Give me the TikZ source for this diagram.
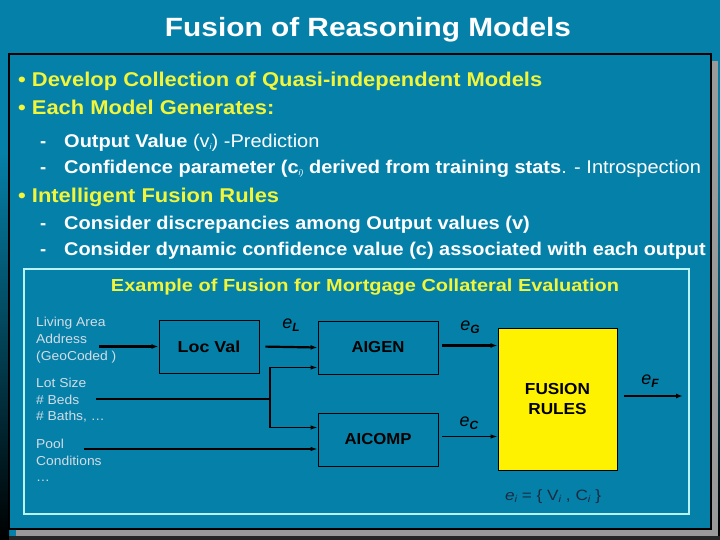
\documentclass[tikz,border=0pt]{standalone}
\usepackage{graphicx}
\usepackage{fontspec}
\setmainfont{Liberation Sans}
\usetikzlibrary{arrows.meta,calc}
\definecolor{bg}{HTML}{0581A9}
\definecolor{ylw}{HTML}{F2F53A}
\definecolor{shadowgray}{HTML}{9A9A9A}
\definecolor{innerline}{HTML}{B8F4F4}
\definecolor{lbl}{HTML}{D4DCE4}
\definecolor{navy}{HTML}{1A2A40}
\newcommand{\sx}[2]{\scalebox{#1}[1]{#2}}
\tikzset{
  txt/.style={inner sep=0pt, anchor=base west},
  bul/.style={txt, text=ylw, font=\fontsize{20}{24}\selectfont\bfseries},
  sub/.style={txt, text=white, font=\fontsize{18.5}{22}\selectfont\bfseries},
  box/.style={draw=black, line width=0.9bp, inner sep=0pt, font=\fontsize{16}{19}\selectfont\bfseries, text=black},
  inlbl/.style={inner sep=0pt, anchor=north west, align=left, text=lbl, font=\fontsize{13}{17}\selectfont},
  thickarr/.style={draw=black, line width=2.2bp, -{Latex[length=7bp,width=5bp]}},
  thinarr/.style={draw=black, line width=1.2bp, -{Latex[length=7bp,width=4.5bp]}},
  thinline/.style={draw=black, line width=1.2bp},
  elbl/.style={inner sep=0pt, text=black, font=\fontsize{18}{20}\selectfont}
}
\newcommand{\elab}[1]{\textit{e}\raisebox{-3bp}{\fontsize{12}{12}\selectfont\bfseries\itshape #1}}
\begin{document}
\begin{tikzpicture}[x=1bp,y=-1bp]
\useasboundingbox (0,0) rectangle (720,540);
\fill[bg] (0,0) rectangle (720,540);
\shade[top color=bg, bottom color=black] (0,150) rectangle (9,540);
\shade[top color=bg, bottom color=black] (718,150) rectangle (720,540);
\fill[black!85] (9,536) rectangle (720,540);
% frame with shadow
\fill[shadowgray] (16,61) rectangle (718,536);
\filldraw[fill=bg, draw=black, line width=1.3bp] (9,54) rectangle (711,529);
% title
\node[inner sep=0pt, anchor=base, text=white, font=\fontsize{26.5}{30}\selectfont\bfseries] (title) at (368,37) {\sx{1.13}{Fusion of Reasoning Models}};
% bullets
\node[bul] (b1) at (18,87) {\sx{1.1}{• Develop Collection of Quasi-independent Models}};
\node[bul] (b2) at (18,115) {\sx{1.1}{• Each Model Generates:}};
\node[sub] (s1d) at (40,148) {-};
\node[sub] (s1) at (64,148) {\sx{1.085}{Output Value {\mdseries(v\raisebox{-2bp}{\fontsize{8}{8}\selectfont\itshape i})} {\mdseries -Prediction}}};
\node[sub] (s2d) at (40,174) {-};
\node[sub] (s2) at (64,174) {\sx{1.085}{Confidence parameter (c\raisebox{-2bp}{\fontsize{8}{8}\selectfont\mdseries\itshape i)} derived from training stats{\mdseries. -} {\mdseries Introspection}}};
\node[bul] (b3) at (18,203) {\sx{1.1}{• Intelligent Fusion Rules}};
\node[sub] (s3d) at (40,230) {-};
\node[sub] (s3) at (64,230) {\sx{1.085}{Consider discrepancies among Output values (v)}};
\node[sub] (s4d) at (40,256) {-};
\node[sub] (s4) at (64,256) {\sx{1.08}{Consider dynamic confidence value (c) associated with each output}};
% inner box
\draw[innerline, line width=1.2bp] (24,269) rectangle (689,514);
\node[inner sep=0pt, anchor=base, text=ylw, font=\fontsize{17.5}{20}\selectfont\bfseries] (ex) at (365,291) {\sx{1.145}{Example of Fusion for Mortgage Collateral Evaluation}};
% input labels
\node[inlbl] (in1) at (36,317) {\sx{1.07}{Living Area}\\\sx{1.07}{Address}\\\sx{1.07}{(GeoCoded )}};
\node[inlbl] (in2) at (36,377.5) {\sx{1.07}{Lot Size}\\\sx{1.07}{\# Beds}\\\sx{1.07}{\# Baths, \dots}};
\node[inlbl] (in3) at (36,438.5) {\sx{1.07}{Pool}\\\sx{1.07}{Conditions}\\\sx{1.07}{\dots}};
% boxes
\node[box, minimum width=100bp, minimum height=53bp] (loc) at (209,346.5) {\sx{1.12}{Loc Val}};
\node[box, minimum width=120bp, minimum height=53bp] (aigen) at (378,347.5) {\sx{1.05}{AIGEN}};
\node[box, minimum width=120bp, minimum height=53bp] (aicomp) at (378,439.5) {\sx{1.05}{AICOMP}};
\node[box, fill=yellow, minimum width=119bp, minimum height=142bp, align=center, font=\fontsize{16}{20}\selectfont\bfseries] (fusion) at (557.5,399) {\sx{1.08}{FUSION}\\\sx{1.08}{RULES}};
% connectors
\coordinate (pA) at (99,346.5);
\draw[thickarr] (pA) -- (loc.west);
\draw[thickarr, shorten <=6bp] (loc.east) -- (aigen.west);
\coordinate (pB) at (96,399);
\coordinate (j) at (270,399);
\draw[thinline] (pB) -- (j);
\draw[thinarr] (j) |- ($(aigen.west)+(0,20)$);
\draw[thinarr] (j) |- ($(aicomp.west)+(0,-12)$);
\coordinate (pC) at (84,449);
\draw[thinarr] (pC) -- (pC -| aicomp.west);
\draw[thickarr, shorten <=4bp] ($(aigen.east)+(0,-2)$) -- ($(aigen.east -| fusion.west)+(0,-2)$);
\draw[thinarr, shorten <=4bp] ($(aicomp.east)+(0,-3)$) -- ($(aicomp.east -| fusion.west)+(0,-3)$);
\coordinate (out) at (683,396);
\draw[thickarr, shorten <=7bp] (fusion.east |- out) -- (out);
% e labels
\node[elbl] (eL) at (291,325) {\elab{L}};
\node[elbl] (eG) at (470,327) {\elab{G}};
\node[elbl] (eC) at (469,423) {\elab{C}};
\node[elbl] (eF) at (650,381) {\elab{F}};
\node[inner sep=0pt, text=navy, font=\fontsize{15}{18}\selectfont] (ei) at (553,497) {\sx{1.15}{\textit{e}\raisebox{-2bp}{\fontsize{10}{10}\selectfont\itshape i} = \{ V\raisebox{-2bp}{\fontsize{10}{10}\selectfont\itshape i} , C\raisebox{-2bp}{\fontsize{10}{10}\selectfont\itshape i} \}}};
\end{tikzpicture}
\end{document}
